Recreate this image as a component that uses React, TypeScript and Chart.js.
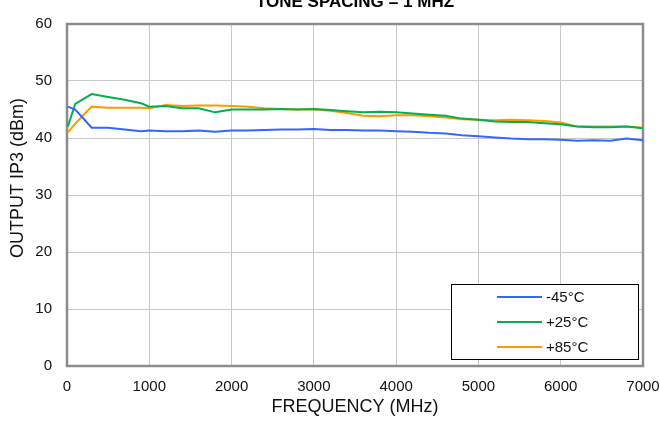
import React, { useEffect, useRef } from "react";
import { Chart, registerables } from "chart.js";

Chart.register(...registerables);

const TITLE = "TONE SPACING = 1 MHZ";
const X_TITLE = "FREQUENCY (MHz)";
const Y_TITLE = "OUTPUT IP3 (dBm)";

const FREQ_MHZ = [
  10, 100, 300, 500, 700, 900, 1000, 1200, 1400, 1600, 1800, 2000, 2200, 2400, 2600, 2800, 3000,
  3200, 3400, 3600, 3800, 4000, 4200, 4400, 4600, 4800, 5000, 5200, 5400, 5600, 5800, 6000, 6200,
  6400, 6600, 6800, 7000,
];

const SERIES_LABELS = ["-45°C", "+25°C", "+85°C"];
const SERIES_COLORS = ["#3366ff", "#00b050", "#ff9900"];

const IP3_M45 = [
  45.5, 45.0, 41.8, 41.8, 41.5, 41.2, 41.3, 41.2, 41.2, 41.3, 41.1, 41.3, 41.3, 41.4, 41.5, 41.5, 41.6,
  41.4, 41.4, 41.3, 41.3, 41.2, 41.1, 40.9, 40.8, 40.5, 40.3, 40.1, 39.9, 39.8, 39.8, 39.7, 39.5,
  39.6, 39.5, 39.9, 39.6,
];
const IP3_P25 = [
  42.0, 46.0, 47.7, 47.2, 46.7, 46.1, 45.5, 45.6, 45.2, 45.2, 44.5, 45.0, 45.0, 45.0, 45.1, 45.0, 45.1,
  44.9, 44.7, 44.5, 44.6, 44.5, 44.3, 44.1, 43.9, 43.4, 43.2, 42.9, 42.8, 42.8, 42.6, 42.4, 42.0,
  41.9, 41.9, 42.0, 41.7,
];
const IP3_P85 = [
  41.0, 42.5, 45.5, 45.3, 45.3, 45.3, 45.2, 45.8, 45.6, 45.7, 45.7, 45.6, 45.5, 45.2, 45.1, 45.0, 45.0,
  44.8, 44.4, 43.9, 43.8, 44.0, 44.0, 43.8, 43.6, 43.3, 43.2, 43.1, 43.2, 43.1, 43.0, 42.7, 42.0,
  42.0, 42.0, 42.0, 41.8,
];

const X_MIN = 0;
const X_MAX = 7000;
const X_STEP = 1000;
const Y_MIN = 0;
const Y_MAX = 60;
const Y_STEP = 10;

const FONT = "'Liberation Sans', Arial, sans-serif";

export default function App() {
  const ref = useRef<HTMLCanvasElement | null>(null);

  useEffect(() => {
    document.body.style.margin = "0";
    const canvas = ref.current;
    if (!canvas) return;

    const seriesValues = [IP3_M45, IP3_P25, IP3_P85];
    const datasets = seriesValues.map((vals, i) => ({
      label: SERIES_LABELS[i],
      data: FREQ_MHZ.map((f, j) => ({ x: f, y: vals[j] })),
      borderColor: SERIES_COLORS[i],
      backgroundColor: SERIES_COLORS[i],
      borderWidth: 2,
      pointRadius: 0,
      tension: 0,
      fill: false,
    }));

    const framePlugin = {
      id: "frame",
      beforeDatasetsDraw(chart: any) {
        const { ctx, chartArea: a } = chart;
        ctx.save();
        ctx.strokeStyle = "#8c8c8c";
        ctx.lineWidth = 2.5;
        ctx.strokeRect(a.left, a.top, a.right - a.left, a.bottom - a.top);
        ctx.restore();
      },
      afterDraw(chart: any) {
        const { ctx } = chart;
        const a = chart.chartArea;
        ctx.save();
        ctx.fillStyle = "#000";
        ctx.font = `bold 17px ${FONT}`;
        ctx.textAlign = "center";
        ctx.textBaseline = "alphabetic";
        ctx.fillText(TITLE, (a.left + a.right) / 2, 7);

        // y-axis title
        ctx.save();
        ctx.translate(18, 178);
        ctx.rotate(-Math.PI / 2);
        ctx.fillStyle = "#111";
        ctx.font = `18px ${FONT}`;
        ctx.textAlign = "center";
        ctx.textBaseline = "middle";
        ctx.fillText(Y_TITLE, 0, 0);
        ctx.restore();

        const bx = 451, by = 284, bw = 187, bh = 75;
        ctx.fillStyle = "#fff";
        ctx.fillRect(bx, by, bw, bh);
        ctx.strokeStyle = "#000";
        ctx.lineWidth = 1;
        ctx.strokeRect(bx + 0.5, by + 0.5, bw, bh);
        ctx.font = `15px ${FONT}`;
        ctx.textAlign = "left";
        ctx.textBaseline = "middle";
        chart.data.datasets.forEach((ds: any, i: number) => {
          const y = by + 13 + i * 25;
          ctx.strokeStyle = ds.borderColor;
          ctx.lineWidth = 2;
          ctx.beginPath();
          ctx.moveTo(497, y);
          ctx.lineTo(542, y);
          ctx.stroke();
          ctx.fillStyle = "#111";
          ctx.fillText(ds.label, 546, y + 1);
        });
        ctx.restore();
      },
    };

    const chart = new Chart(canvas, {
      type: "line",
      data: { datasets },
      options: {
        responsive: false,
        animation: false,
        layout: { padding: { top: 10, right: 17, left: 0, bottom: 0 } },
        plugins: {
          legend: { display: false },
          title: { display: false },
          tooltip: { enabled: false },
        },
        scales: {
          x: {
            type: "linear",
            min: X_MIN,
            max: X_MAX,
            ticks: {
              stepSize: X_STEP,
              color: "#111",
              font: { family: FONT, size: 15 },
              padding: 12,
              maxRotation: 0,
              callback: (v: any) => String(v),
            },
            grid: { color: "#c8c8c8", lineWidth: 1, drawTicks: false },
            border: { display: false },
            title: {
              display: true,
              text: X_TITLE,
              color: "#111",
              font: { family: FONT, size: 18 },
              padding: { top: 0, bottom: 3 },
            },
            afterFit(scale: any) {
              scale.height = 55;
              scale.paddingRight = 0;
            },
          },
          y: {
            type: "linear",
            min: Y_MIN,
            max: Y_MAX,
            ticks: {
              stepSize: Y_STEP,
              color: "#111",
              font: { family: FONT, size: 15 },
              padding: 15,
              callback: (v: any) => String(v),
            },
            grid: { color: "#c8c8c8", lineWidth: 1, drawTicks: false },
            border: { display: false },
            title: { display: false },
            afterFit(scale: any) {
              scale.width = 67;
            },
          },
        },
      },
      plugins: [framePlugin],
    });

    return () => chart.destroy();
  }, []);

  return (
    <div style={{ width: 660, height: 421 }}>
      <canvas ref={ref} width={660} height={421} style={{ display: "block" }} />
    </div>
  );
}
